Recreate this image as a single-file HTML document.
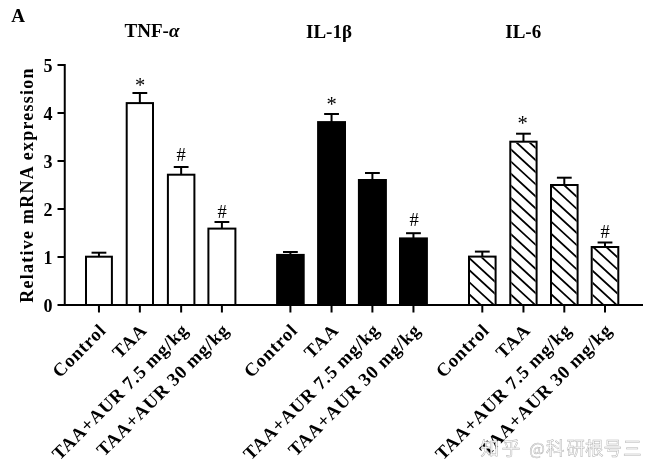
<!DOCTYPE html><html><head><meta charset="utf-8"><title>Relative mRNA expression</title><style>html,body{margin:0;padding:0;background:#fff;overflow:hidden;}svg{display:block;will-change:transform;}.b{font-family:"Liberation Serif","Times New Roman",serif;font-weight:bold;}.r{font-family:"Liberation Serif","Times New Roman",serif;}.wm{font-family:"Noto Sans CJK SC","Liberation Sans",sans-serif;}</style></head><body><svg width="659" height="476" viewBox="0 0 659 476"><defs><clipPath id="c1"><rect x="470.00" y="257.60" width="24.60" height="47.40"/></clipPath><clipPath id="c2"><rect x="511.30" y="142.70" width="24.30" height="162.30"/></clipPath><clipPath id="c3"><rect x="552.00" y="186.00" width="24.60" height="119.00"/></clipPath><clipPath id="c4"><rect x="592.70" y="248.00" width="24.60" height="57.00"/></clipPath></defs><rect width="659" height="476" fill="#fff"/><text class="b" x="11.3" y="21.9" font-size="19">A</text><text class="b" x="124.6" y="37.4" font-size="19">TNF-<tspan font-style="italic">α</tspan></text><text class="b" x="306" y="37.6" font-size="19">IL-1β</text><text class="b" x="505.3" y="37.6" font-size="19">IL-6</text><text class="b" font-size="18" letter-spacing="1.25" transform="translate(33,302.8) rotate(-90)">Relative mRNA expression</text><text class="b" x="52.5" y="311.7" font-size="18" text-anchor="end">0</text><line x1="57.5" y1="305" x2="65" y2="305" stroke="#000" stroke-width="2.0"/><text class="b" x="52.5" y="263.7" font-size="18" text-anchor="end">1</text><line x1="57.5" y1="257" x2="65" y2="257" stroke="#000" stroke-width="2.0"/><text class="b" x="52.5" y="215.7" font-size="18" text-anchor="end">2</text><line x1="57.5" y1="209" x2="65" y2="209" stroke="#000" stroke-width="2.0"/><text class="b" x="52.5" y="167.7" font-size="18" text-anchor="end">3</text><line x1="57.5" y1="161" x2="65" y2="161" stroke="#000" stroke-width="2.0"/><text class="b" x="52.5" y="119.7" font-size="18" text-anchor="end">4</text><line x1="57.5" y1="113" x2="65" y2="113" stroke="#000" stroke-width="2.0"/><text class="b" x="52.5" y="71.7" font-size="18" text-anchor="end">5</text><line x1="57.5" y1="65" x2="65" y2="65" stroke="#000" stroke-width="2.0"/><line x1="64.75" y1="64" x2="64.75" y2="306" stroke="#000" stroke-width="2.0"/><line x1="98.95" y1="252.7" x2="98.95" y2="256.7" stroke="#000" stroke-width="2.0"/><line x1="91.55" y1="252.7" x2="106.35" y2="252.7" stroke="#000" stroke-width="2.0"/><rect x="86.00" y="256.70" width="25.90" height="48.30" fill="#fff"/><rect x="86.00" y="256.70" width="25.90" height="48.30" fill="none" stroke="#000" stroke-width="2.0"/><line x1="98.95" y1="305" x2="98.95" y2="312.5" stroke="#000" stroke-width="2.0"/><text class="b" font-size="18.5" letter-spacing="0.8" text-anchor="end" transform="translate(107.14,331.2) rotate(-45)">Control</text><line x1="139.85" y1="93" x2="139.85" y2="103.1" stroke="#000" stroke-width="2.0"/><line x1="132.45" y1="93" x2="147.25" y2="93" stroke="#000" stroke-width="2.0"/><rect x="126.70" y="103.10" width="26.30" height="201.90" fill="#fff"/><rect x="126.70" y="103.10" width="26.30" height="201.90" fill="none" stroke="#000" stroke-width="2.0"/><line x1="139.85" y1="305" x2="139.85" y2="312.5" stroke="#000" stroke-width="2.0"/><text class="b" font-size="18.5" letter-spacing="0.8" text-anchor="end" transform="translate(148.04,331.2) rotate(-45)">TAA</text><line x1="181.15" y1="167" x2="181.15" y2="174.7" stroke="#000" stroke-width="2.0"/><line x1="173.75" y1="167" x2="188.55" y2="167" stroke="#000" stroke-width="2.0"/><rect x="167.90" y="174.70" width="26.50" height="130.30" fill="#fff"/><rect x="167.90" y="174.70" width="26.50" height="130.30" fill="none" stroke="#000" stroke-width="2.0"/><line x1="181.15" y1="305" x2="181.15" y2="312.5" stroke="#000" stroke-width="2.0"/><text class="b" font-size="18.5" letter-spacing="0.8" text-anchor="end" transform="translate(189.34,331.2) rotate(-45)">TAA+AUR 7.5 mg/kg</text><line x1="221.90" y1="222" x2="221.90" y2="228.6" stroke="#000" stroke-width="2.0"/><line x1="214.50" y1="222" x2="229.30" y2="222" stroke="#000" stroke-width="2.0"/><rect x="208.40" y="228.60" width="27.00" height="76.40" fill="#fff"/><rect x="208.40" y="228.60" width="27.00" height="76.40" fill="none" stroke="#000" stroke-width="2.0"/><line x1="221.90" y1="305" x2="221.90" y2="312.5" stroke="#000" stroke-width="2.0"/><text class="b" font-size="18.5" letter-spacing="0.8" text-anchor="end" transform="translate(230.09,331.2) rotate(-45)">TAA+AUR 30 mg/kg</text><line x1="290.40" y1="252" x2="290.40" y2="254.9" stroke="#000" stroke-width="2.0"/><line x1="283.00" y1="252" x2="297.80" y2="252" stroke="#000" stroke-width="2.0"/><rect x="277.10" y="254.90" width="26.60" height="50.10" fill="#000"/><rect x="277.10" y="254.90" width="26.60" height="50.10" fill="none" stroke="#000" stroke-width="2.0"/><line x1="290.40" y1="305" x2="290.40" y2="312.5" stroke="#000" stroke-width="2.0"/><text class="b" font-size="18.5" letter-spacing="0.8" text-anchor="end" transform="translate(298.59,331.2) rotate(-45)">Control</text><line x1="331.55" y1="114" x2="331.55" y2="122.1" stroke="#000" stroke-width="2.0"/><line x1="324.15" y1="114" x2="338.95" y2="114" stroke="#000" stroke-width="2.0"/><rect x="318.10" y="122.10" width="26.90" height="182.90" fill="#000"/><rect x="318.10" y="122.10" width="26.90" height="182.90" fill="none" stroke="#000" stroke-width="2.0"/><line x1="331.55" y1="305" x2="331.55" y2="312.5" stroke="#000" stroke-width="2.0"/><text class="b" font-size="18.5" letter-spacing="0.8" text-anchor="end" transform="translate(339.74,331.2) rotate(-45)">TAA</text><line x1="372.40" y1="173" x2="372.40" y2="180" stroke="#000" stroke-width="2.0"/><line x1="365.00" y1="173" x2="379.80" y2="173" stroke="#000" stroke-width="2.0"/><rect x="358.90" y="180.00" width="27.00" height="125.00" fill="#000"/><rect x="358.90" y="180.00" width="27.00" height="125.00" fill="none" stroke="#000" stroke-width="2.0"/><line x1="372.40" y1="305" x2="372.40" y2="312.5" stroke="#000" stroke-width="2.0"/><text class="b" font-size="18.5" letter-spacing="0.8" text-anchor="end" transform="translate(380.59,331.2) rotate(-45)">TAA+AUR 7.5 mg/kg</text><line x1="413.45" y1="233.2" x2="413.45" y2="238.4" stroke="#000" stroke-width="2.0"/><line x1="406.05" y1="233.2" x2="420.85" y2="233.2" stroke="#000" stroke-width="2.0"/><rect x="400.00" y="238.40" width="26.90" height="66.60" fill="#000"/><rect x="400.00" y="238.40" width="26.90" height="66.60" fill="none" stroke="#000" stroke-width="2.0"/><line x1="413.45" y1="305" x2="413.45" y2="312.5" stroke="#000" stroke-width="2.0"/><text class="b" font-size="18.5" letter-spacing="0.8" text-anchor="end" transform="translate(421.64,331.2) rotate(-45)">TAA+AUR 30 mg/kg</text><line x1="482.30" y1="251.6" x2="482.30" y2="256.6" stroke="#000" stroke-width="2.0"/><line x1="474.90" y1="251.6" x2="489.70" y2="251.6" stroke="#000" stroke-width="2.0"/><rect x="469.00" y="256.60" width="26.60" height="48.40" fill="#fff"/><path clip-path="url(#c1)" d="M466.00 291.32L502.60 324.99M466.00 279.22L502.60 312.89M466.00 267.12L502.60 300.79M466.00 255.02L502.60 288.69M466.00 242.92L502.60 276.59M466.00 230.82L502.60 264.49" stroke="#000" stroke-width="1.8" fill="none"/><rect x="469.00" y="256.60" width="26.60" height="48.40" fill="none" stroke="#000" stroke-width="2.0"/><line x1="482.30" y1="305" x2="482.30" y2="312.5" stroke="#000" stroke-width="2.0"/><text class="b" font-size="18.5" letter-spacing="0.8" text-anchor="end" transform="translate(490.49,331.2) rotate(-45)">Control</text><line x1="523.45" y1="133.7" x2="523.45" y2="141.7" stroke="#000" stroke-width="2.0"/><line x1="516.05" y1="133.7" x2="530.85" y2="133.7" stroke="#000" stroke-width="2.0"/><rect x="510.30" y="141.70" width="26.30" height="163.30" fill="#fff"/><path clip-path="url(#c2)" d="M507.30 291.32L543.60 324.72M507.30 279.22L543.60 312.62M507.30 267.12L543.60 300.52M507.30 255.02L543.60 288.42M507.30 242.92L543.60 276.32M507.30 230.82L543.60 264.22M507.30 218.72L543.60 252.12M507.30 206.62L543.60 240.02M507.30 194.52L543.60 227.92M507.30 182.42L543.60 215.82M507.30 170.32L543.60 203.72M507.30 158.22L543.60 191.62M507.30 146.12L543.60 179.52M507.30 134.02L543.60 167.42M507.30 121.92L543.60 155.32" stroke="#000" stroke-width="1.8" fill="none"/><rect x="510.30" y="141.70" width="26.30" height="163.30" fill="none" stroke="#000" stroke-width="2.0"/><line x1="523.45" y1="305" x2="523.45" y2="312.5" stroke="#000" stroke-width="2.0"/><text class="b" font-size="18.5" letter-spacing="0.8" text-anchor="end" transform="translate(531.64,331.2) rotate(-45)">TAA</text><line x1="564.30" y1="177.7" x2="564.30" y2="185" stroke="#000" stroke-width="2.0"/><line x1="556.90" y1="177.7" x2="571.70" y2="177.7" stroke="#000" stroke-width="2.0"/><rect x="551.00" y="185.00" width="26.60" height="120.00" fill="#fff"/><path clip-path="url(#c3)" d="M548.00 291.32L584.60 324.99M548.00 279.22L584.60 312.89M548.00 267.12L584.60 300.79M548.00 255.02L584.60 288.69M548.00 242.92L584.60 276.59M548.00 230.82L584.60 264.49M548.00 218.72L584.60 252.39M548.00 206.62L584.60 240.29M548.00 194.52L584.60 228.19M548.00 182.42L584.60 216.09M548.00 170.32L584.60 203.99M548.00 158.22L584.60 191.89" stroke="#000" stroke-width="1.8" fill="none"/><rect x="551.00" y="185.00" width="26.60" height="120.00" fill="none" stroke="#000" stroke-width="2.0"/><line x1="564.30" y1="305" x2="564.30" y2="312.5" stroke="#000" stroke-width="2.0"/><text class="b" font-size="18.5" letter-spacing="0.8" text-anchor="end" transform="translate(572.49,331.2) rotate(-45)">TAA+AUR 7.5 mg/kg</text><line x1="605.00" y1="242.5" x2="605.00" y2="247" stroke="#000" stroke-width="2.0"/><line x1="597.60" y1="242.5" x2="612.40" y2="242.5" stroke="#000" stroke-width="2.0"/><rect x="591.70" y="247.00" width="26.60" height="58.00" fill="#fff"/><path clip-path="url(#c4)" d="M588.70 291.32L625.30 324.99M588.70 279.22L625.30 312.89M588.70 267.12L625.30 300.79M588.70 255.02L625.30 288.69M588.70 242.92L625.30 276.59M588.70 230.82L625.30 264.49M588.70 218.72L625.30 252.39" stroke="#000" stroke-width="1.8" fill="none"/><rect x="591.70" y="247.00" width="26.60" height="58.00" fill="none" stroke="#000" stroke-width="2.0"/><line x1="605.00" y1="305" x2="605.00" y2="312.5" stroke="#000" stroke-width="2.0"/><text class="b" font-size="18.5" letter-spacing="0.8" text-anchor="end" transform="translate(613.19,331.2) rotate(-45)">TAA+AUR 30 mg/kg</text><line x1="64" y1="305" x2="643" y2="305" stroke="#000" stroke-width="2.0"/><text class="r" x="140.0" y="91.6" font-size="20.5" text-anchor="middle">*</text><text class="r" x="181.0" y="161.2" font-size="18.5" text-anchor="middle">#</text><text class="r" x="222.2" y="217.79999999999998" font-size="18.5" text-anchor="middle">#</text><text class="r" x="331.5" y="110.6" font-size="20.5" text-anchor="middle">*</text><text class="r" x="414.1" y="225.89999999999998" font-size="18.5" text-anchor="middle">#</text><text class="r" x="522.5" y="129.9" font-size="20.5" text-anchor="middle">*</text><text class="r" x="605.0" y="237.79999999999998" font-size="18.5" text-anchor="middle">#</text><text class="wm" x="480.6 501.8 529.3 546 566.4 585 603.4 623" y="455.2" font-size="18.5" fill="#fff" stroke="#b4b4b4" stroke-width="0.5">知乎<tspan font-size="16.5">@</tspan>科研根号三</text></svg></body></html>
